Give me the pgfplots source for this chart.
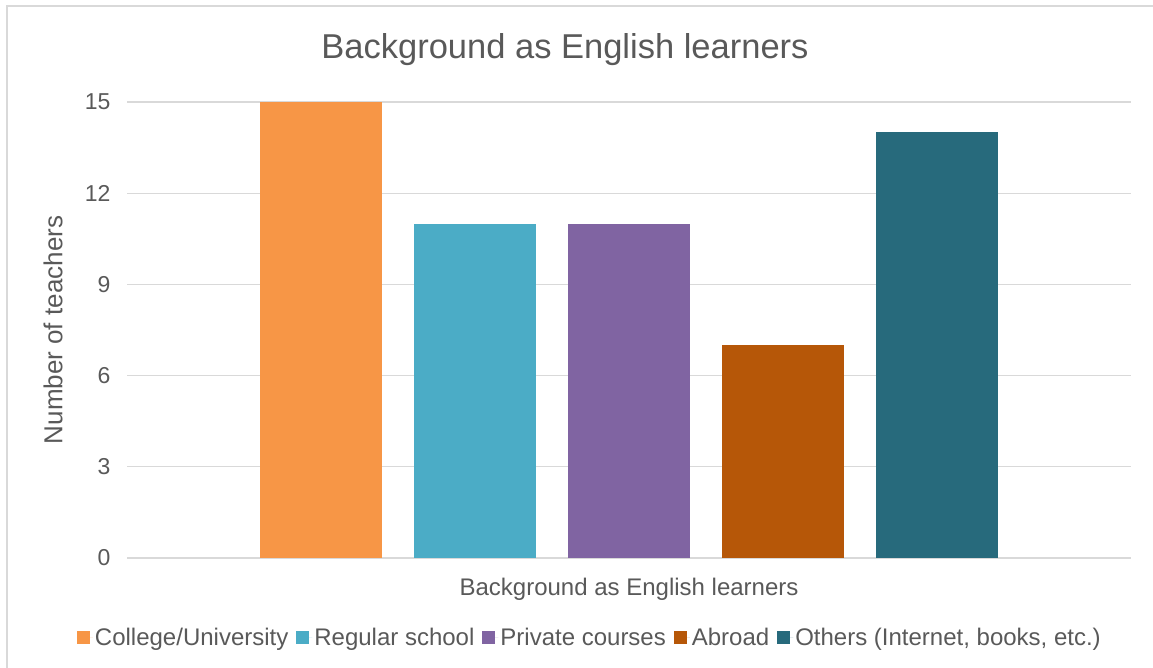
\documentclass[border=0pt]{standalone}
\usepackage{pgfplots}
\pgfplotsset{compat=1.18}
\usepackage{fontspec}
\setmainfont{Liberation Sans}
\definecolor{txt}{HTML}{595959}
\definecolor{gridc}{HTML}{D9D9D9}
\definecolor{c1}{HTML}{F79646}
\definecolor{c2}{HTML}{4BACC6}
\definecolor{c3}{HTML}{8064A2}
\definecolor{c4}{HTML}{B65708}
\definecolor{c5}{HTML}{276A7C}
\pgfplotsset{legsq/.style={legend image code/.code={\fill[##1] (0pt,-6.5pt) rectangle (13pt,6.5pt); \path (0pt,0pt) -- (16pt,0pt);}}}
\begin{document}
\begin{tikzpicture}[x=1pt,y=1pt]
\path[use as bounding box] (0,0) rectangle (1153,668);
\draw[gridc, line width=1.5pt] (7,0) -- (7,662) -- (1153,662);
\node[font=\fontsize{34.5}{40}\selectfont, text=txt] at (565,618) {Background as English learners};
\begin{axis}[
  at={(127pt,110pt)}, anchor=south west, scale only axis,
  width=1004pt, height=456pt,
  xmin=-0.26, xmax=6.26, ymin=0, ymax=15,
  ytick={0,3,6,9,12,15}, xtick=\empty,
  ymajorgrids, grid style={gridc, line width=1.3pt},
  axis line style={draw=none}, major tick length=0pt,
  tick label style={font=\fontsize{23}{27}\selectfont, text=txt},
  /pgf/number format/assume math mode=true,
  yticklabel style={anchor=east, xshift=-13pt},
  ylabel={Number of teachers},
  ylabel style={font=\fontsize{26}{30}\selectfont, text=txt, at={(axis description cs:-0.0737,0.5)}, anchor=center},
  xlabel={Background as English learners},
  xlabel style={font=\fontsize{24}{28}\selectfont, text=txt, at={(axis description cs:0.5,-0.068)}, anchor=center},
  legend columns=5,
  legend cell align=left,
  legend style={at={(axis description cs:0.461,-0.175)}, anchor=center, draw=none, fill=none,
    font=\fontsize{24}{28}\selectfont, text=txt,
    /tikz/every even column/.append style={column sep=6pt}},
]
\addplot[ybar, bar width=0.792, bar shift=0pt, fill=c1, draw=none, legsq] coordinates {(1,15)};
\addlegendentry{College/University}
\addplot[ybar, bar width=0.792, bar shift=0pt, fill=c2, draw=none, legsq] coordinates {(2,11)};
\addlegendentry{Regular school}
\addplot[ybar, bar width=0.792, bar shift=0pt, fill=c3, draw=none, legsq] coordinates {(3,11)};
\addlegendentry{Private courses}
\addplot[ybar, bar width=0.792, bar shift=0pt, fill=c4, draw=none, legsq] coordinates {(4,7)};
\addlegendentry{Abroad}
\addplot[ybar, bar width=0.792, bar shift=0pt, fill=c5, draw=none, legsq] coordinates {(5,14)};
\addlegendentry{Others (Internet, books, etc.)}
\end{axis}
\end{tikzpicture}
\end{document}
